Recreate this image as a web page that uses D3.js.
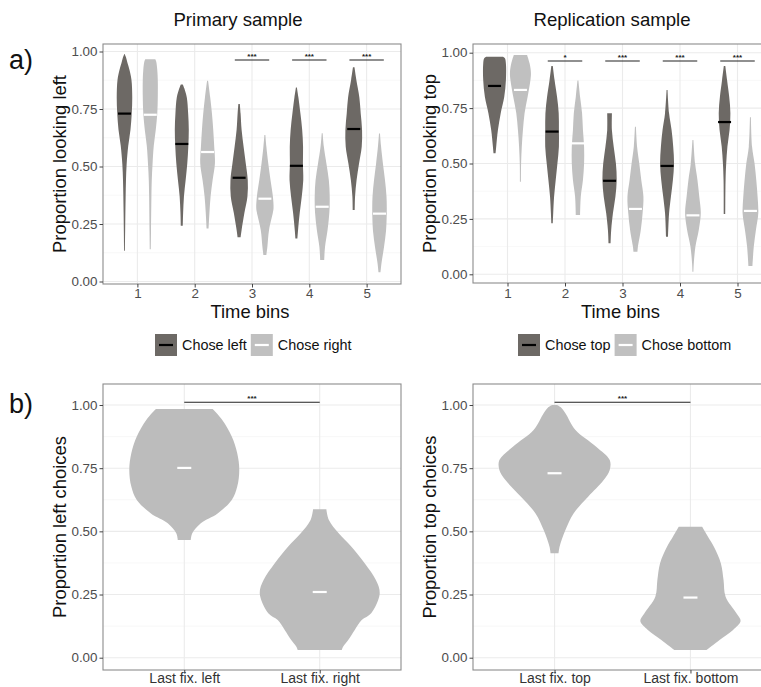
<!DOCTYPE html>
<html>
<head>
<meta charset="utf-8">
<script src="https://cdn.jsdelivr.net/npm/d3@7"></script>
<style>
  html, body { margin: 0; padding: 0; background: #fff; }
  svg { display: block; font-family: "Liberation Sans", Arial, Helvetica, sans-serif; }
</style>
</head>
<body>
<svg id="chart" width="761" height="687"></svg>
<script>
// ---------- data ----------
const timeBins = ["1", "2", "3", "4", "5"];
const yTicks = [0, 0.25, 0.5, 0.75, 1];
const yMinor = [0.125, 0.375, 0.625, 0.875];

// Violin profiles: [proportion, density width as a fraction of one category step]
const primaryChoseLeft = [
  [[0.989,0.005],[0.975,0.052],[0.95,0.105],[0.92,0.175],[0.876,0.244],[0.80,0.271],[0.73,0.253],[0.66,0.209],[0.59,0.131],[0.51,0.075],[0.44,0.052],[0.37,0.040],[0.30,0.031],[0.22,0.023],[0.134,0.014]],
  [[0.857,0.035],[0.84,0.087],[0.80,0.175],[0.73,0.222],[0.66,0.244],[0.586,0.227],[0.514,0.192],[0.44,0.134],[0.37,0.075],[0.30,0.047],[0.242,0.035]],
  [[0.772,0.026],[0.73,0.052],[0.66,0.087],[0.586,0.157],[0.514,0.232],[0.44,0.302],[0.37,0.291],[0.30,0.187],[0.224,0.087],[0.192,0.052]],
  [[0.844,0.017],[0.80,0.070],[0.73,0.140],[0.66,0.201],[0.586,0.232],[0.514,0.227],[0.44,0.239],[0.37,0.187],[0.30,0.117],[0.224,0.058],[0.187,0.035]],
  [[0.931,0.026],[0.876,0.092],[0.80,0.197],[0.73,0.244],[0.66,0.291],[0.586,0.279],[0.514,0.187],[0.44,0.099],[0.37,0.047],[0.311,0.035]]
];
const primaryChoseRight = [
  [[0.966,0.175],[0.955,0.209],[0.92,0.244],[0.876,0.262],[0.80,0.262],[0.73,0.244],[0.66,0.192],[0.59,0.122],[0.51,0.079],[0.44,0.052],[0.37,0.040],[0.22,0.026],[0.14,0.017]],
  [[0.873,0.017],[0.80,0.092],[0.73,0.152],[0.66,0.197],[0.586,0.232],[0.514,0.257],[0.44,0.175],[0.37,0.105],[0.30,0.065],[0.23,0.035]],
  [[0.637,0.017],[0.586,0.052],[0.514,0.117],[0.44,0.197],[0.37,0.279],[0.32,0.302],[0.30,0.279],[0.224,0.145],[0.151,0.087],[0.115,0.052]],
  [[0.645,0.017],[0.586,0.058],[0.514,0.145],[0.44,0.232],[0.37,0.262],[0.30,0.250],[0.224,0.187],[0.151,0.099],[0.093,0.070]],
  [[0.644,0.017],[0.59,0.052],[0.51,0.122],[0.44,0.192],[0.37,0.244],[0.30,0.253],[0.22,0.227],[0.15,0.157],[0.08,0.070],[0.04,0.035]]
];
const primaryChoseLeftMedian = [0.730, 0.598, 0.451, 0.503, 0.663];
const primaryChoseRightMedian = [0.725, 0.563, 0.360, 0.325, 0.295];
const primarySignificance = ["", "", "***", "***", "***"];

const replicationChoseTop = [
  [[0.982,0.296],[0.975,0.360],[0.95,0.395],[0.877,0.395],[0.80,0.336],[0.727,0.214],[0.651,0.117],[0.576,0.057],[0.546,0.035]],
  [[0.94,0.026],[0.877,0.087],[0.80,0.174],[0.727,0.231],[0.651,0.238],[0.576,0.238],[0.50,0.186],[0.426,0.127],[0.35,0.070],[0.275,0.040],[0.23,0.026]],
  [[0.727,0.082],[0.65,0.082],[0.576,0.144],[0.50,0.221],[0.426,0.249],[0.35,0.203],[0.275,0.117],[0.20,0.057],[0.14,0.035]],
  [[0.832,0.017],[0.727,0.070],[0.651,0.157],[0.576,0.214],[0.50,0.243],[0.426,0.203],[0.35,0.134],[0.275,0.070],[0.17,0.035]],
  [[0.94,0.026],[0.877,0.087],[0.80,0.162],[0.727,0.203],[0.651,0.174],[0.576,0.099],[0.50,0.057],[0.426,0.035],[0.272,0.026]]
];
const replicationChoseBottom = [
  [[0.99,0.231],[0.952,0.318],[0.91,0.365],[0.877,0.348],[0.80,0.249],[0.727,0.144],[0.651,0.087],[0.576,0.047],[0.50,0.023],[0.418,0.017]],
  [[0.874,0.017],[0.80,0.075],[0.727,0.144],[0.651,0.174],[0.576,0.214],[0.50,0.214],[0.426,0.174],[0.35,0.099],[0.268,0.075]],
  [[0.666,0.017],[0.576,0.057],[0.50,0.134],[0.426,0.203],[0.35,0.278],[0.275,0.249],[0.20,0.186],[0.125,0.087],[0.102,0.070]],
  [[0.606,0.017],[0.50,0.075],[0.426,0.157],[0.35,0.221],[0.275,0.273],[0.20,0.203],[0.125,0.087],[0.05,0.030],[0.012,0.017]],
  [[0.709,0.017],[0.576,0.057],[0.50,0.144],[0.426,0.203],[0.35,0.249],[0.275,0.273],[0.20,0.191],[0.125,0.117],[0.037,0.070]]
];
const replicationChoseTopMedian = [0.850, 0.644, 0.422, 0.489, 0.687];
const replicationChoseBottomMedian = [0.832, 0.591, 0.295, 0.266, 0.286];
const replicationSignificance = ["", "*", "***", "***", "***"];

const primaryLastFix = ["Last fix. left", "Last fix. right"];
const primaryChoiceViolins = [
  [[0.984,0.418],[0.941,0.561],[0.875,0.701],[0.809,0.782],[0.743,0.812],[0.677,0.782],[0.624,0.701],[0.571,0.492],[0.532,0.244],[0.492,0.118],[0.466,0.096]],
  [[0.587,0.098],[0.545,0.135],[0.492,0.280],[0.44,0.465],[0.374,0.664],[0.308,0.827],[0.255,0.886],[0.176,0.760],[0.149,0.620],[0.110,0.517],[0.070,0.421],[0.044,0.347],[0.030,0.325]]
];
const primaryChoiceMedian = [0.751, 0.260];

const replicationLastFix = ["Last fix. top", "Last fix. bottom"];
const replicationChoiceViolins = [
  [[1.0,0.037],[0.99,0.096],[0.967,0.160],[0.901,0.308],[0.835,0.613],[0.782,0.812],[0.743,0.812],[0.703,0.723],[0.637,0.494],[0.571,0.280],[0.505,0.160],[0.439,0.074],[0.413,0.059]],
  [[0.518,0.172],[0.479,0.258],[0.439,0.345],[0.373,0.448],[0.307,0.487],[0.241,0.517],[0.175,0.679],[0.145,0.738],[0.110,0.627],[0.070,0.428],[0.030,0.236]]
];
const replicationChoiceMedian = [0.730, 0.238];

// ---------- drawing ----------
const svg = d3.select("#chart");
const DARK = "#6d6965", LIGHT = "#c0c0c0", BIG = "#bcbcbc";
const TICK_COL = "#4d4d4d";

function panel(opt) {
  const g = svg.append("g");
  const x = d3.scalePoint().domain(opt.cats).range([opt.x0, opt.x1]).padding(0.6);
  const y = d3.scaleLinear().domain([0, 1]).range(opt.yRange);
  const step = x.step();
  const w = d3.scaleLinear().domain([0, 1]).range([0, step]);

  // background grid
  g.append("rect").attr("x", opt.x0).attr("y", opt.top).attr("width", opt.x1 - opt.x0)
    .attr("height", opt.bottom - opt.top).attr("fill", "#fff");
  g.selectAll(".minor").data(yMinor).join("line")
    .attr("x1", opt.x0).attr("x2", opt.x1).attr("y1", d => y(d)).attr("y2", d => y(d))
    .attr("stroke", "#f3f3f3").attr("stroke-width", 0.6);
  g.selectAll(".major").data(yTicks).join("line")
    .attr("x1", opt.x0).attr("x2", opt.x1).attr("y1", d => y(d)).attr("y2", d => y(d))
    .attr("stroke", "#ebebeb").attr("stroke-width", 1.1);
  g.selectAll(".vgrid").data(opt.cats).join("line")
    .attr("x1", d => x(d)).attr("x2", d => x(d)).attr("y1", opt.top).attr("y2", opt.bottom)
    .attr("stroke", "#ebebeb").attr("stroke-width", 1.1);

  // violins
  opt.groups.forEach(grp => {
    grp.data.forEach((profile, i) => {
      const cx = x(opt.cats[i]) + grp.offset * step;
      const area = d3.area()
        .curve(d3.curveCatmullRom)
        .y(d => y(d[0]))
        .x0(d => cx - w(d[1]) / 2)
        .x1(d => cx + w(d[1]) / 2);
      g.append("path").attr("d", area(profile)).attr("fill", grp.fill);
      g.append("line")
        .attr("x1", cx - grp.medianWidth / 2).attr("x2", cx + grp.medianWidth / 2)
        .attr("y1", y(grp.medians[i])).attr("y2", y(grp.medians[i]))
        .attr("stroke", grp.medianColor).attr("stroke-width", 2.2);
    });
  });

  // significance brackets
  opt.sig.forEach(s => {
    const xa = x(s.from) + s.fromOffset * step, xb = x(s.to) + s.toOffset * step;
    g.append("line").attr("x1", xa).attr("x2", xb).attr("y1", y(s.level)).attr("y2", y(s.level))
      .attr("stroke", "#222").attr("stroke-width", 1.1);
    g.append("text").attr("x", (xa + xb) / 2).attr("y", y(s.level) - 1.5)
      .attr("text-anchor", "middle").attr("font-size", 8).attr("font-weight", "bold")
      .attr("fill", "#222").text(s.label);
  });

  // border
  g.append("rect").attr("x", opt.x0).attr("y", opt.top).attr("width", opt.x1 - opt.x0)
    .attr("height", opt.bottom - opt.top).attr("fill", "none").attr("stroke", "#8c8c8c").attr("stroke-width", 1.1);

  // y axis
  const yAxis = d3.axisLeft(y).tickValues(yTicks).tickFormat(d3.format(".2f")).tickSize(3.5).tickPadding(2);
  const ya = g.append("g").attr("transform", `translate(${opt.x0},0)`).call(yAxis);
  ya.select(".domain").remove();
  ya.selectAll("line").attr("stroke", "#444");
  ya.selectAll("text").attr("font-size", 13.4).attr("fill", TICK_COL).attr("font-family", null);

  // x axis
  const xAxis = d3.axisBottom(x).tickSize(3.5).tickPadding(opt.xTickPad);
  const xa = g.append("g").attr("transform", `translate(0,${opt.bottom})`).call(xAxis);
  xa.select(".domain").remove();
  xa.selectAll("line").attr("stroke", "#444");
  xa.selectAll("text").attr("font-size", opt.xTickSize).attr("fill", opt.xTickColor).attr("font-family", null);

  // axis titles
  g.append("text")
    .attr("transform", `translate(${opt.yTitleX},${(opt.top + opt.bottom) / 2}) rotate(-90)`)
    .attr("text-anchor", "middle").attr("font-size", 18.4).attr("fill", "#111").text(opt.yTitle);
  if (opt.xTitle) {
    g.append("text").attr("x", (opt.x0 + opt.x1) / 2 - 2).attr("y", opt.xTitleY)
      .attr("text-anchor", "middle").attr("font-size", 18.4).attr("fill", "#111").text(opt.xTitle);
  }
  return { x, y };
}

function sigBars(cats, labels, level) {
  return cats.map((c, i) => ({ from: c, to: c, fromOffset: -0.3, toOffset: 0.3, level, label: labels[i] }))
    .filter(s => s.label !== "");
}

// a) time-bin panels
panel({
  cats: timeBins, x0: 103, x1: 401, top: 44, bottom: 284, yRange: [281.5, 51.5],
  groups: [
    { data: primaryChoseLeft, offset: -0.225, fill: DARK, medians: primaryChoseLeftMedian, medianColor: "#000", medianWidth: 13 },
    { data: primaryChoseRight, offset: 0.225, fill: LIGHT, medians: primaryChoseRightMedian, medianColor: "#fff", medianWidth: 13 }
  ],
  sig: sigBars(timeBins, primarySignificance, 0.963),
  yTitle: "Proportion looking left", yTitleX: 66, xTitle: "Time bins", xTitleY: 318,
  xTickSize: 13.4, xTickColor: TICK_COL, xTickPad: 0.5
});
panel({
  cats: timeBins, x0: 473, x1: 772, top: 44, bottom: 283, yRange: [274.3, 52.7],
  groups: [
    { data: replicationChoseTop, offset: -0.225, fill: DARK, medians: replicationChoseTopMedian, medianColor: "#000", medianWidth: 13 },
    { data: replicationChoseBottom, offset: 0.225, fill: LIGHT, medians: replicationChoseBottomMedian, medianColor: "#fff", medianWidth: 13 }
  ],
  sig: sigBars(timeBins, replicationSignificance, 0.9625),
  yTitle: "Proportion looking top", yTitleX: 436, xTitle: "Time bins", xTitleY: 318,
  xTickSize: 13.4, xTickColor: TICK_COL, xTickPad: 1.5
});

// b) last-fixation panels
panel({
  cats: primaryLastFix, x0: 103, x1: 401, top: 384, bottom: 670, yRange: [657.7, 405],
  groups: [
    { data: primaryChoiceViolins, offset: 0, fill: BIG, medians: primaryChoiceMedian, medianColor: "#fff", medianWidth: 14 }
  ],
  sig: [{ from: primaryLastFix[0], to: primaryLastFix[1], fromOffset: 0, toOffset: 0, level: 1.011, label: "***" }],
  yTitle: "Proportion left choices", yTitleX: 66,
  xTickSize: 14, xTickColor: "#333", xTickPad: -0.5
});
panel({
  cats: replicationLastFix, x0: 473, x1: 772, top: 384, bottom: 670, yRange: [657.7, 405],
  groups: [
    { data: replicationChoiceViolins, offset: 0, fill: BIG, medians: replicationChoiceMedian, medianColor: "#fff", medianWidth: 14 }
  ],
  sig: [{ from: replicationLastFix[0], to: replicationLastFix[1], fromOffset: 0, toOffset: 0, level: 1.011, label: "***" }],
  yTitle: "Proportion top choices", yTitleX: 436,
  xTickSize: 14, xTickColor: "#333", xTickPad: -0.5
});

// panel titles and letters
svg.append("text").attr("x", 238).attr("y", 26).attr("text-anchor", "middle")
  .attr("font-size", 18.6).attr("fill", "#111").text("Primary sample");
svg.append("text").attr("x", 612).attr("y", 26).attr("text-anchor", "middle")
  .attr("font-size", 18.6).attr("fill", "#111").text("Replication sample");
svg.append("text").attr("x", 9).attr("y", 69).attr("font-size", 27).attr("fill", "#111").text("a)");
svg.append("text").attr("x", 9).attr("y", 413).attr("font-size", 27).attr("fill", "#111").text("b)");

// legends
function legend(x0, items) {
  const g = svg.append("g");
  let cx = x0;
  items.forEach(it => {
    g.append("rect").attr("x", cx).attr("y", 334).attr("width", 22).attr("height", 22).attr("fill", it.fill);
    g.append("line").attr("x1", cx + 4).attr("x2", cx + 18).attr("y1", 345).attr("y2", 345)
      .attr("stroke", it.line).attr("stroke-width", 2.2);
    const t = g.append("text").attr("x", cx + 27).attr("y", 350).attr("font-size", 14.4)
      .attr("fill", "#111").text(it.label);
    cx += 27 + t.node().getComputedTextLength() + 4;
  });
}
legend(155, [
  { fill: DARK, line: "#000", label: "Chose left" },
  { fill: LIGHT, line: "#fff", label: "Chose right" }
]);
legend(518, [
  { fill: DARK, line: "#000", label: "Chose top" },
  { fill: LIGHT, line: "#fff", label: "Chose bottom" }
]);
</script>
</body>
</html>
